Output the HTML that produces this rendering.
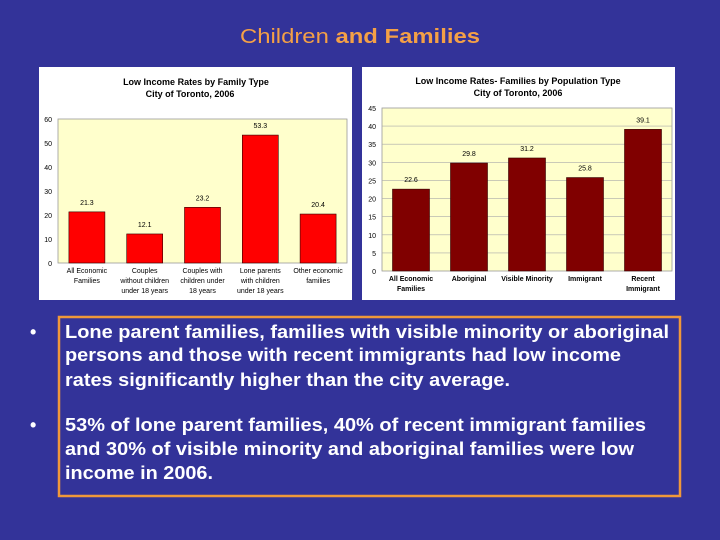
<!DOCTYPE html>
<html><head><meta charset="utf-8"><style>
html,body{margin:0;padding:0;background:#333399;}
svg{display:block;font-family:"Liberation Sans",Arial,sans-serif;}
</style></head><body>
<svg id="s" width="720" height="540" viewBox="0 0 720 540">
<rect width="720" height="540" fill="#333399"/>
<text x="240" y="43" font-size="20" fill="#f4a046" textLength="240" lengthAdjust="spacingAndGlyphs">Children <tspan font-weight="bold">and Families</tspan></text>

<rect x="39" y="67" width="313" height="233" fill="#fff"/>
<text x="196" y="85" text-anchor="middle" font-size="9" font-weight="bold">Low Income Rates by Family Type</text>
<text x="190" y="97" text-anchor="middle" font-size="9" font-weight="bold">City of Toronto, 2006</text>
<rect x="58" y="119" width="289" height="144" fill="#ffffcc" stroke="#999" stroke-width="0.8"/>
<g id="left"></g>

<rect x="362" y="67" width="313" height="233" fill="#fff"/>
<text x="518" y="84" text-anchor="middle" font-size="9" font-weight="bold">Low Income Rates- Families by Population Type</text>
<text x="518" y="96" text-anchor="middle" font-size="9" font-weight="bold">City of Toronto, 2006</text>
<rect x="382" y="108" width="290" height="163" fill="#ffffcc" stroke="#999" stroke-width="0.8"/>
<g id="right"></g>

<rect x="59" y="317" width="621" height="179" fill="none" stroke="#f0983a" stroke-width="2.5"/>
<g fill="#fff" font-size="18" font-weight="bold">
<text x="30" y="338">•</text>
<text x="65" y="338" textLength="604" lengthAdjust="spacingAndGlyphs">Lone parent families, families with visible minority or aboriginal</text>
<text x="65" y="361" textLength="556" lengthAdjust="spacingAndGlyphs">persons and those with recent immigrants had low income</text>
<text x="65" y="386" textLength="445" lengthAdjust="spacingAndGlyphs">rates significantly higher than the city average.</text>
<text x="30" y="431">•</text>
<text x="65" y="431" textLength="581" lengthAdjust="spacingAndGlyphs">53% of lone parent families, 40% of recent immigrant families</text>
<text x="65" y="455" textLength="569" lengthAdjust="spacingAndGlyphs">and 30% of visible minority and aboriginal families were low</text>
<text x="65" y="479" textLength="148" lengthAdjust="spacingAndGlyphs">income in 2006.</text>
</g>
</svg>
<script>
const leftCategories=[["All Economic","Families"],["Couples","without children","under 18 years"],["Couples with","children under","18 years"],["Lone parents","with children","under 18 years"],["Other economic","families"]];
const leftValues=[21.3,12.1,23.2,53.3,20.4];
const leftTicks=[0,10,20,30,40,50,60];
const rightCategories=[["All Economic","Families"],["Aboriginal"],["Visible Minority"],["Immigrant"],["Recent","Immigrant"]];
const rightValues=[22.6,29.8,31.2,25.8,39.1];
const rightTicks=[0,5,10,15,20,25,30,35,40,45];
const NS="http://www.w3.org/2000/svg";
function mk(g,tag,attrs,txt){const e=document.createElementNS(NS,tag);for(const k in attrs)e.setAttribute(k,attrs[k]);if(txt!==undefined)e.textContent=txt;g.appendChild(e);return e;}
function draw(gid,cats,vals,ticks,o){
  const g=document.getElementById(gid);
  const max=ticks[ticks.length-1];
  const y=v=>o.y0-(v/max)*(o.y0-o.y1);
  const step=(o.x1-o.x0)/cats.length;
  ticks.forEach(t=>{
    if(o.grid&&t>0){const l=mk(g,'line',{x1:o.x0,x2:o.x1,y1:y(t),y2:y(t),stroke:'#aaa','stroke-width':0.6});
    
    }
    const tx=mk(g,'text',{x:o.x0-6,y:y(t)+3,'font-size':7,'text-anchor':'end'},t);
    
    
  });
  vals.forEach((v,i)=>{
    const cx=o.x0+step*(i+0.5);
    const r=mk(g,'rect',{x:cx-o.bw/2,y:y(v),width:o.bw,height:o.y0-y(v),fill:o.color,stroke:'#300','stroke-width':0.6});
    
    
    const lb=mk(g,'text',{x:cx,y:y(v)-7,'font-size':7,'text-anchor':'middle'},v.toFixed(1));
    
    
    cats[i].forEach((ln,j)=>{
      const c=mk(g,'text',{x:cx,y:o.y0+10+j*10,'font-size':7,'font-weight':o.bold?'bold':'normal','text-anchor':'middle'},ln);
      
      
    });
  });
}
draw('left',leftCategories,leftValues,leftTicks,{x0:58,x1:347,y0:263,y1:119,bw:36,color:'#ff0000',grid:false,bold:false});
draw('right',rightCategories,rightValues,rightTicks,{x0:382,x1:672,y0:271,y1:108,bw:37,color:'#800000',grid:true,bold:true});
</script>
</body></html>
